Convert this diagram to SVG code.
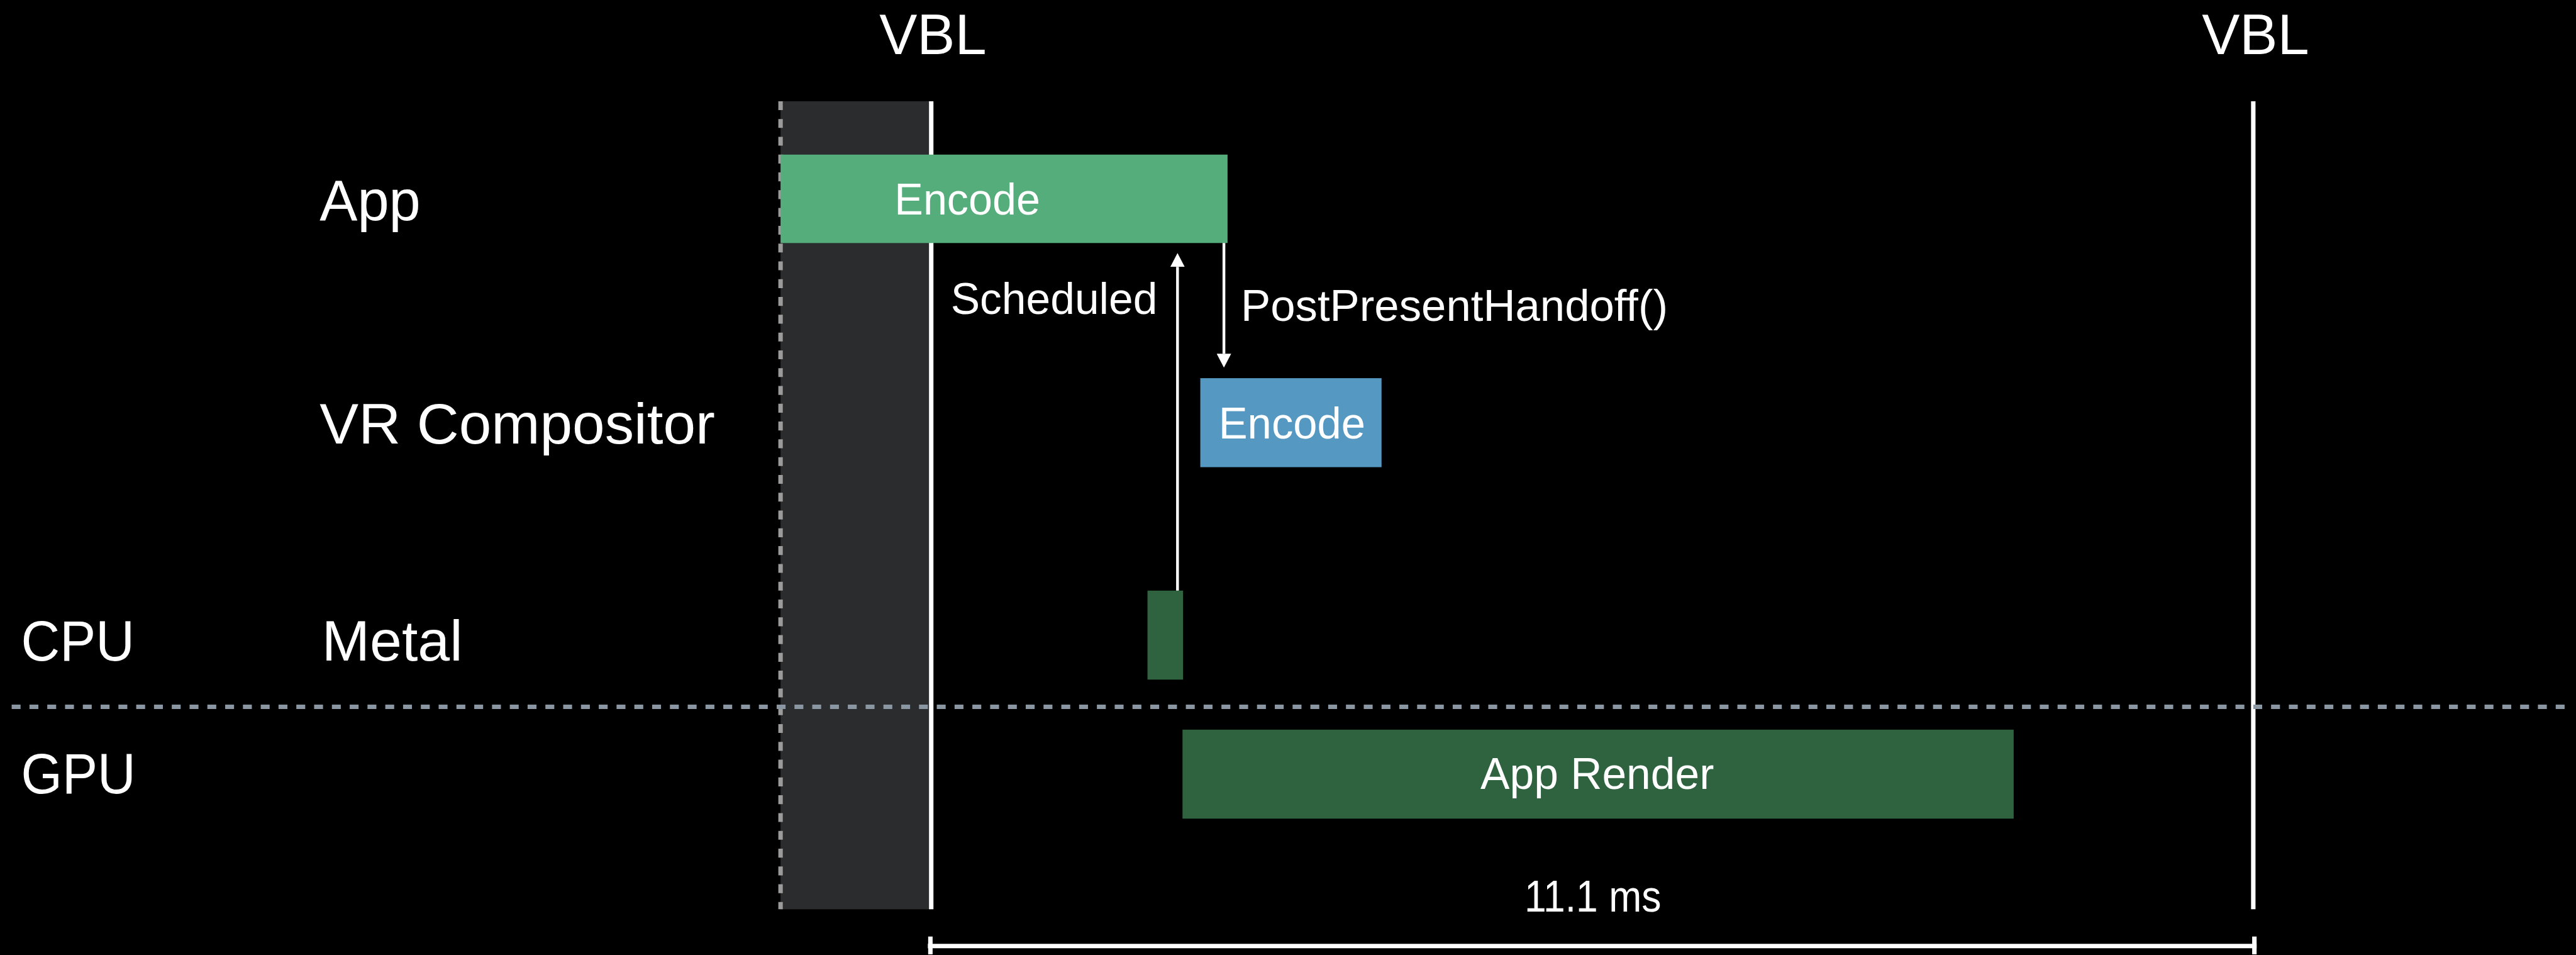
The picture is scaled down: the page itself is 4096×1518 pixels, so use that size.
<svg xmlns="http://www.w3.org/2000/svg" width="4096" height="1518" viewBox="0 0 4096 1518">
<style>
.lbl{font-family:"Liberation Sans",Arial,sans-serif;font-size:102px;fill:#ffffff}
.sm{font-family:"Liberation Sans",Arial,sans-serif;font-size:80px;fill:#ffffff}
.vbl{stroke:#ffffff;stroke-width:8;fill:none}
.conn{stroke:#ffffff;stroke-width:5;fill:none}
</style>
<defs>
<marker id="ah" markerUnits="userSpaceOnUse" viewBox="0 0 25 26" refX="0" refY="13" markerWidth="25" markerHeight="26" orient="auto">
<path d="M0,0 L25,13 L0,26 z" fill="#ffffff"/>
</marker>
</defs>
<rect x="0" y="0" width="4096" height="1518" fill="#000000"/>
<g transform="scale(0.884)">
<g id="frame">
<rect x="1404" y="182" width="271" height="1453" fill="#2b2c2e"/>
<line x1="1404" y1="182" x2="1404" y2="1635" stroke="#9b9b9b" stroke-width="8" stroke-dasharray="16 16"/>
<line class="vbl" x1="1675" y1="182" x2="1675" y2="1635"/>
<line class="vbl" x1="4053" y1="182" x2="4053" y2="1635"/>
<line x1="21" y1="1271" x2="4629" y2="1271" stroke="#8a96a2" stroke-width="8" stroke-dasharray="16 16"/>
<text class="lbl" x="1678" y="97" text-anchor="middle" font-size="100">VBL</text>
<text class="lbl" x="4057" y="97" text-anchor="middle" font-size="100">VBL</text>
</g>
<g id="labels">
<text class="lbl" x="575" y="396">App</text>
<text class="lbl" x="575" y="798" textLength="711" lengthAdjust="spacingAndGlyphs">VR Compositor</text>
<text class="lbl" x="38" y="1188" textLength="204" lengthAdjust="spacingAndGlyphs">CPU</text>
<text class="lbl" x="579" y="1188" textLength="253" lengthAdjust="spacingAndGlyphs">Metal</text>
<text class="lbl" x="38" y="1427" textLength="206" lengthAdjust="spacingAndGlyphs">GPU</text>
</g>
<g id="app-encode">
<rect x="1404" y="278" width="804" height="159" fill="#55ad7b"/>
<text class="sm" x="1609" y="386" textLength="262" lengthAdjust="spacingAndGlyphs">Encode</text>
</g>
<g id="vr-encode">
<rect x="2159" y="680" width="326" height="160" fill="#5598c2"/>
<text class="sm" x="2192" y="788" textLength="264" lengthAdjust="spacingAndGlyphs">Encode</text>
</g>
<g id="metal-block">
<rect x="2064" y="1062" width="64" height="160" fill="#2f6340"/>
</g>
<g id="app-render">
<rect x="2127" y="1312" width="1495" height="160" fill="#2f6340"/>
<text class="sm" x="2663" y="1419" textLength="420" lengthAdjust="spacingAndGlyphs">App Render</text>
</g>
<g id="connectors">
<path class="conn" d="M2118,1062 L2118,480" marker-end="url(#ah)"/>
<path class="conn" d="M2201.5,437 L2201.5,636" marker-end="url(#ah)"/>
<text class="sm" x="1710" y="564" textLength="372" lengthAdjust="spacingAndGlyphs">Scheduled</text>
<text class="sm" x="2232" y="577" textLength="768" lengthAdjust="spacingAndGlyphs">PostPresentHandoff()</text>
</g>
<g id="duration">
<line x1="1669" y1="1701" x2="4059" y2="1701" stroke="#ffffff" stroke-width="8"/>
<line x1="1673.5" y1="1684" x2="1673.5" y2="1716" stroke="#ffffff" stroke-width="8"/>
<line x1="4055" y1="1684" x2="4055" y2="1716" stroke="#ffffff" stroke-width="8"/>
<text class="sm" x="2742" y="1639" textLength="246" lengthAdjust="spacingAndGlyphs">11.1 ms</text>
</g>
</g>
</svg>
